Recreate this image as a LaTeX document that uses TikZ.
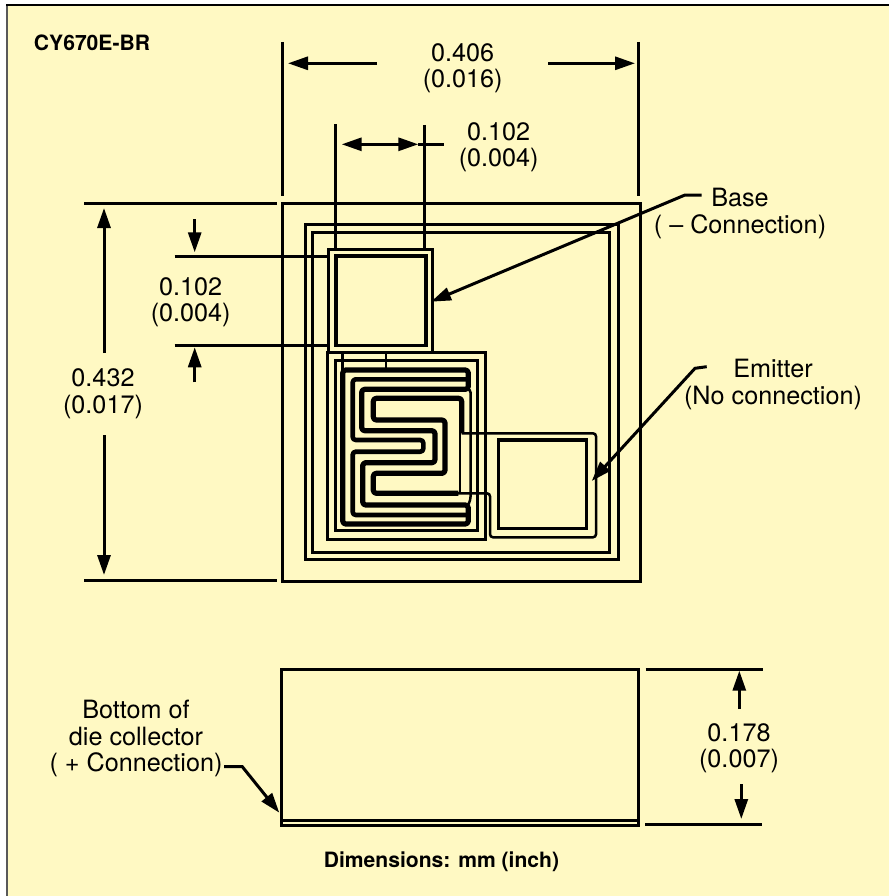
\documentclass[tikz,border=0pt]{standalone}
\usepackage{fontspec}
\setmainfont{TeX Gyre Heros}
\usetikzlibrary{arrows.meta}
\definecolor{paper}{HTML}{FFF9C3}
\tikzset{
  ln/.style={line width=3pt,black},
  thinln/.style={line width=2.5pt,black,rounded corners=3pt},
  thick snake/.style={line width=5.2pt,black,rounded corners=3pt,line join=round},
  arr/.style={ln,-{Triangle[length=20pt,width=13pt]},shorten >=0pt},
  lab/.style={inner sep=0pt,outer sep=0pt,align=center,anchor=base,font=\fontsize{25.2}{26.4}\selectfont},
  blab/.style={inner sep=0pt,outer sep=0pt,anchor=base,font=\fontsize{21.1}{24}\selectfont\bfseries},
}
\begin{document}
\begin{tikzpicture}[x=1pt,y=-1pt]
\useasboundingbox (0,0) rectangle (889,896);
\fill[white] (0,0) rectangle (889,896);
\fill[paper] (7,5) rectangle (889,896);
\draw[line width=2.2pt,black!65] (7,5) -- (7,896);
\draw[line width=1.8pt,black] (6,5) -- (889,5);

% chip outlines
\draw[ln] (282.7,203.3) rectangle (640,581.7);
\draw[ln] (305.7,224) rectangle (618,559);
\draw[ln] (312.7,232.7) rectangle (609,552);
\draw[ln] (328.3,249) rectangle (432.3,352.5);
\draw[ln,line width=3.2pt] (336,256) rectangle (426,345.3);
\draw[ln] (327.5,352.7) rectangle (485,539);
\draw[ln] (335,360.7) rectangle (477.3,530.7);
\draw[ln,line width=3.2pt] (498.3,440) rectangle (586.7,528.3);

% serpentine
\draw[thinln] (342.7,353) -- (342.7,370);
\draw[thinln] (386,353) -- (386,368);
\draw[thick snake] (342.7,370) -- (468.3,370) -- (468.3,389.3) -- (361.7,389.3) -- (361.7,430.7) -- (435,430.7) -- (435,462.7) -- (362.7,462.7) -- (362.7,505) -- (468.3,505) -- (468.3,524) -- (342.7,524) -- cycle;
\draw[thick snake,line width=4.6pt] (466.7,379.3) -- (352.7,379.3) -- (352.7,440) -- (423.3,440) -- (423.3,451.7) -- (352.7,451.7) -- (352.7,515) -- (466.7,515);
\draw[thick snake] (461.7,433.3) -- (461.7,398.3) -- (373.3,398.3) -- (373.3,420) -- (445,420) -- (445,473.3) -- (373.3,473.3) -- (373.3,493.3) -- (458.3,493.3);
\draw[thinln] (468,389.3) -- (470.5,389.3) -- (470.5,500) -- (468,505);
\draw[thinln] (460,430) -- (460,493);
\draw[thinln] (461.7,433.3) -- (596,433.3) -- (596,537.3) -- (490,537.3) -- (490,493.3) -- (458,493.3);

% named dimension points
\coordinate (ta1) at (282,42);   \coordinate (ta2) at (282,195.7);
\coordinate (tb1) at (638.7,42); \coordinate (tb2) at (638.7,195.7);
\coordinate (wa1) at (377,63.3); \coordinate (wa2) at (288,63.3);
\coordinate (wb1) at (548,63.3); \coordinate (wb2) at (635,63.3);
\coordinate (pa1) at (335,124.5); \coordinate (pa2) at (335,250);
\coordinate (pb1) at (424.3,125); \coordinate (pb2) at (424.3,250);
\coordinate (pc1) at (341.7,144.3); \coordinate (pc2) at (418.3,144.3); \coordinate (pc3) at (444,144.3);
\coordinate (la1) at (84,203.3);  \coordinate (la2) at (276.7,203.3);
\coordinate (lb1) at (84,580);    \coordinate (lb2) at (276.7,580);
\coordinate (ha1) at (104,353);   \coordinate (ha2) at (104,208);
\coordinate (hb1) at (104,435);   \coordinate (hb2) at (104,575);
\coordinate (qa1) at (174.7,256); \coordinate (qa2) at (329,256);
\coordinate (qb1) at (174.7,345); \coordinate (qb2) at (329,345);
\coordinate (ra1) at (194.7,219.3); \coordinate (ra2) at (194.7,252.3);
\coordinate (rb1) at (194.7,382.3); \coordinate (rb2) at (194.7,347.3);
\coordinate (sa1) at (645.7,669); \coordinate (sa2) at (762.7,669);
\coordinate (sb1) at (645,824);   \coordinate (sb2) at (762,824);
\coordinate (ua1) at (739.3,709); \coordinate (ua2) at (739.3,670.7);
\coordinate (ub1) at (741.3,784); \coordinate (ub2) at (741.3,819);

\draw[ln] (ta1) -- (ta2);
\draw[ln] (tb1) -- (tb2);
\draw[arr] (wa1) -- (wa2);
\draw[arr] (wb1) -- (wb2);
\draw[ln] (pa1) -- (pa2);
\draw[ln] (pb1) -- (pb2);
\draw[ln] (pc2) -- (pc3);
\draw[ln,{Triangle[length=20pt,width=13pt]}-{Triangle[length=20pt,width=13pt]}] (pc1) -- (pc2);
\draw[ln] (la1) -- (la2);
\draw[ln] (lb1) -- (lb2);
\draw[arr] (ha1) -- (ha2);
\draw[arr] (hb1) -- (hb2);
\draw[ln] (qa1) -- (qa2);
\draw[ln] (qb1) -- (qb2);
\draw[arr] (ra1) -- (ra2);
\draw[arr] (rb1) -- (rb2);

% side view
\draw[ln] (281.7,669) rectangle (638.3,825);
\draw[ln] (281.7,820) -- (638.3,820);
\draw[ln] (sa1) -- (sa2);
\draw[ln] (sb1) -- (sb2);
\draw[arr] (ua1) -- (ua2);
\draw[arr] (ub1) -- (ub2);

% labels (the base of a stacked label is its last line)
\node[blab] (title) at (92,51) {CY670E-BR};
\node[lab] (d406) at (462.7,88) {0.406\\(0.016)};
\node[lab] (d102a) at (498.7,167) {0.102\\(0.004)};
\node[lab] (d102b) at (190.7,321.7) {0.102\\(0.004)};
\node[lab] (d432) at (103,413) {0.432\\(0.017)};
\node[lab] (d178) at (739,767.7) {0.178\\(0.007)};
\node[lab] (base) at (740,233) {Base\\( – Connection)};
\node[lab] (emit) at (773,404) {Emitter\\(No connection)};
\node[lab] (coll) at (136,771.7) {Bottom of\\die collector\\( + Connection)};
\node[blab] (dims) at (441.5,867) {Dimensions: mm (inch)};

% leaders
\coordinate (ba) at (701.7,195); \coordinate (bb) at (685,195); \coordinate (bc) at (431,301.7);
\coordinate (ea) at (706.7,366.7); \coordinate (eb) at (695,368.3); \coordinate (ec) at (591.7,481);
\coordinate (ca) at (224,766.7); \coordinate (cb) at (242.3,766.7); \coordinate (cc) at (279.3,812.7);
\draw[arr] (ba) -- (bb) -- (bc);
\draw[arr] (ea) -- (eb) -- (ec);
\draw[arr] (ca) -- (cb) -- (cc);
\end{tikzpicture}
\end{document}
